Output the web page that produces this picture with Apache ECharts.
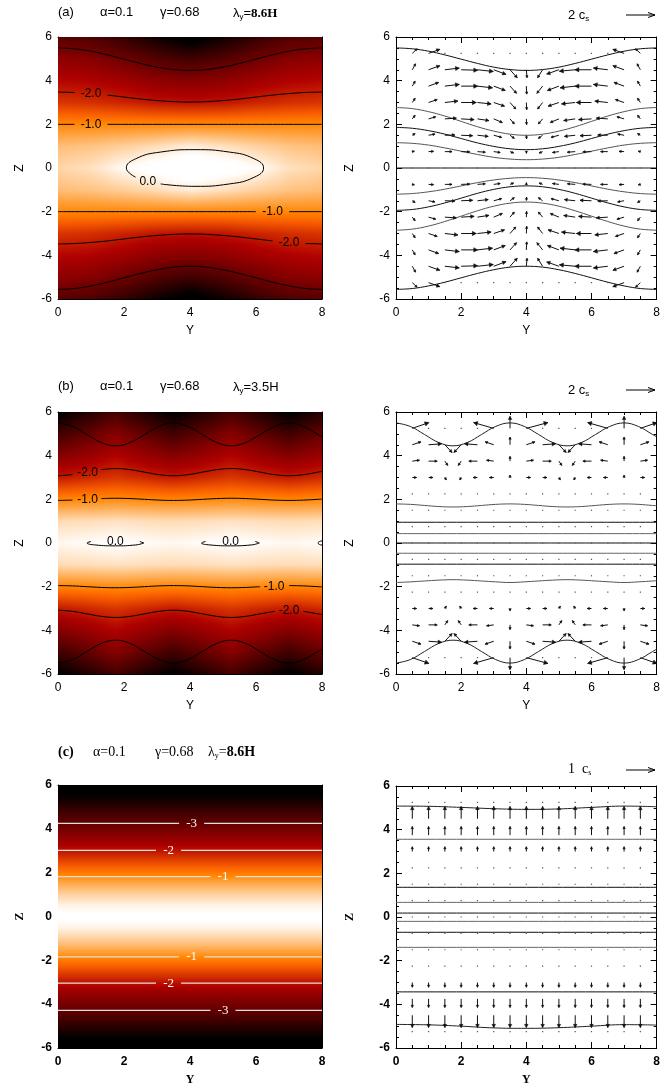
<!DOCTYPE html>
<html><head><meta charset="utf-8">
<script src="https://cdn.jsdelivr.net/npm/echarts@6.0.0/dist/echarts.min.js"></script>
<style>html,body{margin:0;padding:0;background:#fff}#c{width:663px;height:1091px}</style>
</head><body><div id="c"></div>
<script>
// ---------------- DATA ----------------
// log-density (heat maps), rows from z=6 down to z=-6
const aRhoY = [0,1,2,3,4,5,6,7,8];
const aRhoZ = [6,5,4,3,2,1,0,-1,-2,-3,-4,-5,-6];
const aRho = [
 [-3.1,-3.2,-3.5,-3.9,-4.3,-3.9,-3.5,-3.2,-3.1],
 [-2.5,-2.6,-2.85,-3.15,-3.35,-3.15,-2.85,-2.6,-2.5],
 [-2.1,-2.15,-2.3,-2.5,-2.6,-2.5,-2.3,-2.15,-2.1],
 [-1.7,-1.75,-1.85,-1.97,-2.0,-1.97,-1.85,-1.75,-1.7],
 [-1,-1,-1,-1,-1,-1,-1,-1,-1],
 [-0.55,-0.5,-0.4,-0.28,-0.15,-0.25,-0.38,-0.5,-0.55],
 [-0.35,-0.25,-0.03,0.12,0.2,0.14,0.0,-0.25,-0.35],
 [-0.55,-0.5,-0.4,-0.28,-0.15,-0.25,-0.38,-0.5,-0.55],
 [-1,-1,-1,-1,-1,-1,-1,-1,-1],
 [-1.7,-1.75,-1.85,-1.97,-2.0,-1.97,-1.85,-1.75,-1.7],
 [-2.1,-2.15,-2.3,-2.5,-2.6,-2.5,-2.3,-2.15,-2.1],
 [-2.5,-2.6,-2.85,-3.15,-3.35,-3.15,-2.85,-2.6,-2.5],
 [-3.1,-3.2,-3.5,-3.9,-4.3,-3.9,-3.5,-3.2,-3.1]
];
const bRhoY = [0,0.875,1.75,2.625,3.5,4.375,5.25,6.125,7.0,7.875,8.0];
const bRhoZ = [6,5,4,3,2,1,0,-1,-2,-3,-4,-5,-6];
const bRho = [
 [-4.1,-3.7,-3.3,-3.7,-4.1,-3.7,-3.3,-3.7,-4.1,-3.7,-3.65],
 [-3.35,-3.0,-2.6,-3.0,-3.35,-3.0,-2.6,-3.0,-3.35,-3.0,-2.95],
 [-2.6,-2.38,-2.15,-2.38,-2.6,-2.38,-2.15,-2.38,-2.6,-2.38,-2.36],
 [-1.93,-1.82,-1.7,-1.82,-1.93,-1.82,-1.7,-1.82,-1.93,-1.82,-1.8],
 [-1.03,-1.0,-0.97,-1.0,-1.03,-1.0,-0.97,-1.0,-1.03,-1.0,-1.0],
 [-0.3,-0.28,-0.25,-0.28,-0.3,-0.28,-0.25,-0.28,-0.3,-0.28,-0.28],
 [-0.06,-0.02,0.03,-0.02,-0.06,-0.02,0.03,-0.02,-0.06,-0.02,-0.01],
 [-0.3,-0.28,-0.25,-0.28,-0.3,-0.28,-0.25,-0.28,-0.3,-0.28,-0.28],
 [-1.03,-1.0,-0.97,-1.0,-1.03,-1.0,-0.97,-1.0,-1.03,-1.0,-1.0],
 [-1.93,-1.82,-1.7,-1.82,-1.93,-1.82,-1.7,-1.82,-1.93,-1.82,-1.8],
 [-2.6,-2.38,-2.15,-2.38,-2.6,-2.38,-2.15,-2.38,-2.6,-2.38,-2.36],
 [-3.35,-3.0,-2.6,-3.0,-3.35,-3.0,-2.6,-3.0,-3.35,-3.0,-2.95],
 [-4.1,-3.7,-3.3,-3.7,-4.1,-3.7,-3.3,-3.7,-4.1,-3.7,-3.65]
];
const cRhoZ = [6,5.5,5,4.5,4,3.5,3,2.5,2,1.5,1,0.5,0,-0.5,-1,-1.5,-2,-2.5,-3,-3.5,-4,-4.5,-5,-5.5,-6];
const cRho = [-4.5,-4.0,-3.55,-3.15,-2.78,-2.4,-1.98,-1.55,-1.12,-0.72,-0.38,-0.1,0.05,-0.1,-0.38,-0.72,-1.12,-1.55,-1.98,-2.4,-2.78,-3.15,-3.55,-4.0,-4.5];

// contour / field-line samples
const aY = [0,0.5,1,1.5,2,2.5,3,3.5,4,4.5,5,5.5,6,6.5,7,7.5,8];
const aField1 = [5.5,5.46,5.35,5.18,4.985,4.79,4.62,4.51,4.47,4.51,4.62,4.79,4.985,5.18,5.35,5.46,5.5];
const aField1b = [-5.56,-5.52,-5.4,-5.23,-5.03,-4.83,-4.66,-4.54,-4.5,-4.54,-4.66,-4.83,-5.03,-5.23,-5.4,-5.52,-5.56];
const aCm2Top = [3.48,3.46,3.41,3.34,3.25,3.16,3.09,3.04,3.02,3.04,3.09,3.16,3.25,3.34,3.41,3.46,3.48];
const aCm2Bot = [-3.48,-3.46,-3.41,-3.34,-3.25,-3.16,-3.09,-3.04,-3.02,-3.04,-3.09,-3.16,-3.25,-3.34,-3.41,-3.46,-3.48];
const aCm1Top = [2,2,2,2,2,2,2,2,2,2,2,2,2,2,2,2,2];
const aCm1Bot = [-2,-2,-2,-2,-2,-2,-2,-2,-2,-2,-2,-2,-2,-2,-2,-2,-2];
const aC0 = [[3.11,-0.73],[4.15,-0.84],[5.19,-0.73],[5.95,-0.42],[6.23,0],[5.95,0.42],[5.19,0.73],[4.15,0.84],[3.11,0.73],[2.35,0.42],[2.07,0],[2.35,-0.42]];
const aC01 = [[2.43,0],[2.65,0.26],[3.26,0.45],[4.1,0.52],[4.94,0.45],[5.55,0.26],[5.77,0],[5.55,-0.26],[4.94,-0.45],[4.1,-0.52],[3.6,-0.5]];
const aField2 = [2.77,2.72,2.58,2.38,2.135,1.89,1.69,1.55,1.5,1.55,1.69,1.89,2.135,2.38,2.58,2.72,2.77];
const aField3 = [1.86,1.82,1.71,1.55,1.35,1.15,0.99,0.88,0.84,0.88,0.99,1.15,1.35,1.55,1.71,1.82,1.86];
const aField4 = [1.16,1.13,1.05,0.92,0.77,0.62,0.49,0.41,0.38,0.41,0.49,0.62,0.77,0.92,1.05,1.13,1.16];
const aField0 = [0,0,0,0,0,0,0,0,0,0,0,0,0,0,0,0,0];
const aField4b = [-1.2,-1.17,-1.09,-0.97,-0.82,-0.67,-0.55,-0.47,-0.44,-0.47,-0.55,-0.67,-0.82,-0.97,-1.09,-1.17,-1.2];
const aField3b = [-1.94,-1.9,-1.78,-1.6,-1.38,-1.16,-0.98,-0.86,-0.82,-0.86,-0.98,-1.16,-1.38,-1.6,-1.78,-1.9,-1.94];
const aField2b = [-2.85,-2.8,-2.66,-2.45,-2.205,-1.96,-1.75,-1.61,-1.56,-1.61,-1.75,-1.96,-2.205,-2.45,-2.66,-2.8,-2.85];

const bY = [0,0.4375,0.875,1.3125,1.75,2.1875,2.625,3.0625,3.5,3.9375,4.375,4.8125,5.25,5.6875,6.125,6.5625,7.0,7.4375,7.875,8.0];
const bFieldTop = [5.5,5.34,4.97,4.6,4.45,4.6,4.97,5.34,5.5,5.34,4.97,4.6,4.45,4.6,4.97,5.34,5.5,5.34,4.97,4.86];
const bFieldBot = [-5.5,-5.34,-4.97,-4.6,-4.45,-4.6,-4.97,-5.34,-5.5,-5.34,-4.97,-4.6,-4.45,-4.6,-4.97,-5.34,-5.5,-5.34,-4.97,-4.86];
const bCm2Top = [3.08,3.13,3.245,3.36,3.41,3.36,3.245,3.13,3.08,3.13,3.245,3.36,3.41,3.36,3.245,3.13,3.08,3.13,3.245,3.28];
const bCm2Bot = [-3.08,-3.13,-3.245,-3.36,-3.41,-3.36,-3.245,-3.13,-3.08,-3.13,-3.245,-3.36,-3.41,-3.36,-3.245,-3.13,-3.08,-3.13,-3.245,-3.28];
const bCm1Top = [1.95,1.965,2.0,2.035,2.05,2.035,2.0,1.965,1.95,1.965,2.0,2.035,2.05,2.035,2.0,1.965,1.95,1.965,2.0,2.01];
const bCm1Bot = [-1.95,-1.965,-2.0,-2.035,-2.05,-2.035,-2.0,-1.965,-1.95,-1.965,-2.0,-2.035,-2.05,-2.035,-2.0,-1.965,-1.95,-1.965,-2.0,-2.01];
const bC0a = [[2.6,0],[2.35,-0.09],[1.74,-0.13],[1.13,-0.09],[0.88,0],[1.0,0.07]];
const bC0a2 = [[2.48,0.07],[2.6,0]];
const bC0b = [[6.1,0],[5.85,-0.09],[5.23,-0.13],[4.61,-0.09],[4.35,0],[4.47,0.07]];
const bC0b2 = [[5.98,0.07],[6.1,0]];
const bC0c = [[8.1,0.12],[7.95,0.08],[7.88,0],[7.95,-0.08],[8.1,-0.12]];
const bField18 = [1.79,1.77,1.72,1.67,1.65,1.67,1.72,1.77,1.79,1.77,1.72,1.67,1.65,1.67,1.72,1.77,1.79,1.77,1.72,1.71];
const bField18b = [-1.81,-1.78,-1.74,-1.7,-1.68,-1.7,-1.74,-1.78,-1.81,-1.78,-1.74,-1.7,-1.68,-1.7,-1.74,-1.78,-1.81,-1.78,-1.74,-1.73];
const bFlat = [0.95,0.43,0,-0.47,-0.97];

const cY = [0,1,2,3,4,5,6,7,8];
const cFieldTop = [5.08,5.07,5.02,4.96,4.93,4.95,5.02,5.08,5.05];
const cFieldBot = [-4.92,-4.94,-5.0,-5.08,-5.1,-5.07,-5.0,-4.93,-4.95];
const cFlat = [3.56,1.36,0.67,0.18,-0.2,-0.7,-1.39,-3.43];
const cContour = [4.25,3.02,1.82,-1.84,-3.04,-4.28];

// vector grid
const vecY = [0.5,1,1.5,2,2.5,3,3.5,4,4.5,5,5.5,6,6.5,7,7.5];
const vecZ = [5.25,4.5,3.75,3,2.25,1.5,0.75,0,-0.75,-1.5,-2.25,-3,-3.75,-4.5,-5.25];
const aVy = [
 [0.34,0.78,0,0,0,0,0,0,0,0,0,0,0,-0.78,-0.34],
 [0.23,0.78,1.0,1.15,1.1,0.85,0.5,0.05,-0.35,-0.85,-1.1,-1.15,-1.0,-0.78,-0.23],
 [0.2,0.7,1.0,1.15,1.05,0.8,0.45,0.03,-0.4,-0.8,-1.05,-1.15,-1.0,-0.7,-0.2],
 [0.2,0.6,0.9,1.05,0.95,0.75,0.4,0.03,-0.35,-0.75,-0.95,-1.05,-0.9,-0.6,-0.2],
 [0.2,0.5,0.8,0.9,0.8,0.6,0.3,0.02,-0.3,-0.6,-0.8,-0.9,-0.8,-0.5,-0.2],
 [0.2,0.45,0.7,0.8,0.75,0.55,0.3,0.02,-0.3,-0.55,-0.75,-0.8,-0.7,-0.45,-0.2],
 [0.15,0.35,0.5,0.6,0.55,0.45,0.25,0.01,-0.25,-0.45,-0.55,-0.6,-0.5,-0.35,-0.15],
 [0,0,0,0,0,0,0,0,0,0,0,0,0,0,0],
 [0.15,0.35,0.5,0.6,0.55,0.45,0.25,0.01,-0.25,-0.45,-0.55,-0.6,-0.5,-0.35,-0.15],
 [0.2,0.45,0.7,0.8,0.75,0.55,0.3,0.02,-0.3,-0.55,-0.75,-0.8,-0.7,-0.45,-0.2],
 [0.2,0.5,0.8,0.9,0.8,0.6,0.3,0.02,-0.3,-0.6,-0.8,-0.9,-0.8,-0.5,-0.2],
 [0.2,0.6,0.9,1.05,0.95,0.75,0.4,0.03,-0.35,-0.75,-0.95,-1.05,-0.9,-0.6,-0.2],
 [0.2,0.7,1.0,1.15,1.05,0.8,0.45,0.03,-0.4,-0.8,-1.05,-1.15,-1.0,-0.7,-0.2],
 [0.23,0.78,1.0,1.15,1.1,0.85,0.5,0.05,-0.35,-0.85,-1.1,-1.15,-1.0,-0.78,-0.23],
 [0.34,0.78,0,0,0,0,0,0,0,0,0,0,0,-0.78,-0.34]
];
const aVz = [
 [0.48,0.42,0,0,0,0,0,0,0,0,0,0,0,0.42,0.48],
 [0.62,0.42,0.17,-0.05,-0.18,-0.48,-0.83,-0.83,-0.83,-0.45,-0.15,0,0.18,0.42,0.62],
 [0.52,0.38,0.18,0,-0.18,-0.45,-0.75,-0.83,-0.75,-0.45,-0.18,0,0.18,0.38,0.52],
 [0.45,0.3,0.15,0,-0.15,-0.38,-0.68,-0.75,-0.68,-0.38,-0.15,0,0.15,0.3,0.45],
 [0.38,0.22,0.08,-0.08,-0.18,-0.38,-0.53,-0.6,-0.53,-0.38,-0.18,-0.08,0.08,0.22,0.38],
 [0.18,0.12,0.03,-0.05,-0.12,-0.22,-0.33,-0.38,-0.33,-0.22,-0.12,-0.05,0.03,0.12,0.18],
 [0.05,0.03,0,-0.03,-0.06,-0.09,-0.15,-0.18,-0.15,-0.09,-0.06,-0.03,0,0.03,0.05],
 [0,0,0,0,0,0,0,0,0,0,0,0,0,0,0],
 [-0.05,-0.03,0,0.03,0.06,0.09,0.15,0.18,0.15,0.09,0.06,0.03,0,-0.03,-0.05],
 [-0.18,-0.12,-0.03,0.05,0.12,0.22,0.33,0.38,0.33,0.22,0.12,0.05,-0.03,-0.12,-0.18],
 [-0.38,-0.22,-0.08,0.08,0.18,0.38,0.53,0.6,0.53,0.38,0.18,0.08,-0.08,-0.22,-0.38],
 [-0.45,-0.3,-0.15,0,0.15,0.38,0.68,0.75,0.68,0.38,0.15,0,-0.15,-0.3,-0.45],
 [-0.52,-0.38,-0.18,0,0.18,0.45,0.75,0.83,0.75,0.45,0.18,0,-0.18,-0.38,-0.52],
 [-0.62,-0.42,-0.17,0.05,0.18,0.48,0.83,0.83,0.83,0.45,0.15,0,-0.18,-0.42,-0.62],
 [-0.48,-0.42,0,0,0,0,0,0,0,0,0,0,0,-0.42,-0.48]
];
const bVy = [
 [1.15,0,0,0,0,-1.4,0,1.5,0,0,0,0,-1.4,0,1.15],
 [0.6,0.9,0.5,-0.5,-0.9,-0.6,0,0.6,0.9,0.5,-0.5,-0.9,-0.6,0,0.6],
 [0.5,0.6,0.2,-0.2,-0.6,-0.5,0,0.5,0.6,0.2,-0.2,-0.6,-0.5,0,0.5],
 [0.3,0.3,0.1,-0.1,-0.3,-0.3,0,0.3,0.3,0.1,-0.1,-0.3,-0.3,0,0.3],
 [0.1,0.1,0,0,-0.1,-0.1,0,0.1,0.1,0,0,-0.1,-0.1,0,0.1],
 [0,0,0,0,0,0,0,0,0,0,0,0,0,0,0],
 [0,0,0,0,0,0,0,0,0,0,0,0,0,0,0],
 [0,0,0,0,0,0,0,0,0,0,0,0,0,0,0],
 [0,0,0,0,0,0,0,0,0,0,0,0,0,0,0],
 [0,0,0,0,0,0,0,0,0,0,0,0,0,0,0],
 [0.1,0.1,0,0,-0.1,-0.1,0,0.1,0.1,0,0,-0.1,-0.1,0,0.1],
 [0.3,0.3,0.1,-0.1,-0.3,-0.3,0,0.3,0.3,0.1,-0.1,-0.3,-0.3,0,0.3],
 [0.5,0.6,0.2,-0.2,-0.6,-0.5,0,0.5,0.6,0.2,-0.2,-0.6,-0.5,0,0.5],
 [0.6,0.9,0.5,-0.5,-0.9,-0.6,0,0.6,0.9,0.5,-0.5,-0.9,-0.6,0,0.6],
 [1.15,0,0,0,0,-1.4,0,1.5,0,0,0,0,-1.4,0,1.15]
];
const bVz = [
 [0.6,0,0,0,0,0.6,1.25,0.6,0,0,0,0,0.6,1.25,0.6],
 [0.3,0.1,-0.8,-0.8,0.1,0.3,0.8,0.3,0.1,-0.8,-0.8,0.1,0.3,0.8,0.3],
 [0.1,0,-0.45,-0.45,0,0.1,0.5,0.1,0,-0.45,-0.45,0,0.1,0.5,0.1],
 [0,0,-0.25,-0.25,0,0,0.25,0,0,-0.25,-0.25,0,0,0.25,0],
 [0,0,0,0,0,0,0,0,0,0,0,0,0,0,0],
 [0,0,0,0,0,0,0,0,0,0,0,0,0,0,0],
 [0,0,0,0,0,0,0,0,0,0,0,0,0,0,0],
 [0,0,0,0,0,0,0,0,0,0,0,0,0,0,0],
 [0,0,0,0,0,0,0,0,0,0,0,0,0,0,0],
 [0,0,0,0,0,0,0,0,0,0,0,0,0,0,0],
 [0,0,0,0,0,0,0,0,0,0,0,0,0,0,0],
 [0,0,0.25,0.25,0,0,-0.25,0,0,0.25,0.25,0,0,-0.25,0],
 [-0.1,0,0.45,0.45,0,-0.1,-0.5,-0.1,0,0.45,0.45,0,-0.1,-0.5,-0.1],
 [-0.3,-0.1,0.8,0.8,-0.1,-0.3,-0.8,-0.3,-0.1,0.8,0.8,-0.1,-0.3,-0.8,-0.3],
 [-0.6,0,0,0,0,-0.6,-1.25,-0.6,0,0,0,0,-0.6,-1.25,-0.6]
];
const cVz = [0.02,0.64,0.45,0.25,0.05,0.03,0.02,0,-0.02,-0.03,-0.05,-0.25,-0.45,-0.64,-0.02];

// ---------------- RENDERING ----------------
const FONT = '"Liberation Sans", Arial, sans-serif';
const SERIF = '"Liberation Serif", "Times New Roman", serif';

function cmap(v){
  let i = 255 + 63*v; i = Math.max(0, Math.min(255, i));
  const r = Math.min(255, i*1.46), g = Math.max(0, Math.min(255,(i-120)*1.89)), b = Math.max(0, Math.min(255,(i-190)*3.92));
  return 'rgb('+Math.round(r)+','+Math.round(g)+','+Math.round(b)+')';
}

const grids = [
 {left:58, top:37, width:264, height:262},
 {left:396, top:37, width:262, height:262},
 {left:58, top:412, width:264, height:262},
 {left:396, top:412, width:262, height:262},
 {left:58, top:785, width:264, height:263},
 {left:396, top:786, width:262, height:262}
];

const xAxes = [], yAxes = [];
function addAxes(gi, bold){
  const lab = {color:'#000', fontSize:12, fontFamily: FONT, fontWeight: bold ? 'bold':'normal'};
  const nameStyle = {color:'#000', fontSize:12, fontFamily: bold ? SERIF : FONT, fontWeight: bold ? 'bold':'normal'};
  const base = {type:'value', gridIndex:gi,
    axisLine:{show:true,onZero:false,lineStyle:{color:'#000',width:1}},
    axisTick:{show:true,inside:true,length:6,lineStyle:{color:'#000',width:1}},
    minorTick:{show:true,splitNumber:4,length:3,lineStyle:{color:'#000',width:1}},
    splitLine:{show:false}, minorSplitLine:{show:false}};
  const right = gi % 2 === 1;
  xAxes.push(Object.assign({}, base, {min:0,max:8,interval:2,position:'bottom',
    axisLabel:Object.assign({margin:8}, lab), name:'Y', nameLocation:'middle', nameGap:26, nameTextStyle:nameStyle}));
  xAxes.push(Object.assign({}, base, {min:0,max:8,interval:2,position:'top', axisLabel:{show:false}}));
  yAxes.push(Object.assign({}, base, {min:-6,max:6,interval:2,position:'left',
    axisLabel:Object.assign({margin:6}, lab), name:'Z', nameLocation:'middle', nameRotate:90,
    nameGap: right ? 40 : 32, nameTextStyle:nameStyle}));
  yAxes.push(Object.assign({}, base, {min:-6,max:6,interval:2,position:'right', axisLabel:{show:false}}));
}
for (let g=0; g<6; g++) addAxes(g, g>=4);

const series = [];

function heat(gi, ys, zs, rows){
  const multi = ys.length > 1;
  const items = multi ? ys.slice(0,-1).map((y,k)=>[y, k]) : [[0,0]];
  const zTop = zs[0], zBot = zs[zs.length-1];
  series.push({type:'custom', xAxisIndex:2*gi, yAxisIndex:2*gi, clip:true, silent:true, z:1,
    data: items,
    renderItem(params, api){
      const k = api.value(1);
      const y0 = multi ? ys[k] : 0, y1 = multi ? ys[k+1] : 8;
      const pA = api.coord([y0, zTop]), pB = api.coord([y1, zBot]);
      const NS = multi ? Math.max(1, Math.round((pB[0]-pA[0])/3)) : 1;
      const yT = Math.floor(pA[1]), yB = Math.ceil(pB[1]);
      const children = [];
      for (let s=0; s<NS; s++){
        const f = (s+0.5)/NS;
        const col = rows.map(r => multi ? r[k]*(1-f) + r[k+1]*f : (Array.isArray(r) ? r[0] : r));
        const stops = [];
        for (let j=0; j<zs.length-1; j++){
          for (let t=0; t<4; t++){
            const v = col[j] + (col[j+1]-col[j])*t/4;
            const z = zs[j] + (zs[j+1]-zs[j])*t/4;
            stops.push({offset:(zTop - z)/(zTop - zBot), color:cmap(v)});
          }
        }
        stops.push({offset:1, color:cmap(col[col.length-1])});
        const xL = Math.round(pA[0] + (pB[0]-pA[0])*s/NS), xR = Math.round(pA[0] + (pB[0]-pA[0])*(s+1)/NS);
        children.push({type:'rect', shape:{x:xL, y:yT, width:xR-xL+1, height:yB-yT},
          style:{fill:{type:'linear', x:0, y:0, x2:0, y2:1, colorStops:stops}}});
      }
      return {type:'group', children};
    }});
}

function segs(ys, zs, gaps){
  gaps = gaps || [];
  const out = []; let cur = [];
  for (let i=0; i<ys.length; i++){
    const y = ys[i];
    if (gaps.some(g => y > g[0] && y < g[1])) continue;
    if (cur.length && gaps.some(g => cur[cur.length-1][0] <= g[0] && y >= g[1])) { out.push(cur); cur = []; }
    cur.push([y, zs[i]]);
  }
  if (cur.length) out.push(cur);
  return out;
}
function line(gi, pts, color, width, smooth){
  series.push({type:'line', xAxisIndex:2*gi, yAxisIndex:2*gi, data:pts, symbol:'none', showSymbol:false,
    smooth: smooth === undefined ? 0.4 : smooth, clip:true, silent:true, z:3,
    lineStyle:{color:color, width:width || 1}});
}
function lines(gi, ys, zs, color, gaps, width){
  segs(ys, zs, gaps).forEach(p => line(gi, p, color, width));
}
function labels(gi, labs, color, font){
  series.push({type:'custom', xAxisIndex:2*gi, yAxisIndex:2*gi, z:5, silent:true, clip:false,
    data: labs.map(l => [l[0], l[1]]),
    renderItem(p, api){
      const c = api.coord([api.value(0), api.value(1)]);
      return {type:'text', x:c[0], y:c[1], style:{text:labs[p.dataIndex][2], fill:color, font:font, align:'center', verticalAlign:'middle'}};
    }});
}
function vectors(gi, vy, vz, S){
  const data = [];
  vecZ.forEach((z, r) => vecY.forEach((y, c) => {
    data.push([y, z, Array.isArray(vy[r]) ? vy[r][c] : 0, Array.isArray(vz[r]) ? vz[r][c] : vz[r]]);
  }));
  series.push({type:'custom', xAxisIndex:2*gi, yAxisIndex:2*gi, z:4, silent:true, clip:true, data,
    renderItem(p, api){
      const y = api.value(0), z = api.value(1), u = api.value(2), w = api.value(3);
      const p0 = api.coord([y, z]), p1 = api.coord([y + u*S, z + w*S]);
      const dx = p1[0]-p0[0], dy = p1[1]-p0[1], L = Math.hypot(dx, dy);
      if (L < 1.5) return {type:'rect', shape:{x:p0[0]-0.6, y:p0[1]-0.6, width:1.2, height:1.2}, style:{fill:'#555'}};
      const h = Math.min(4.5, Math.max(2.5, L*0.3)), ang = Math.atan2(dy, dx), a = 0.5;
      const l = [p1[0]-h*Math.cos(ang-a), p1[1]-h*Math.sin(ang-a)], rr = [p1[0]-h*Math.cos(ang+a), p1[1]-h*Math.sin(ang+a)];
      return {type:'group', children:[
        {type:'line', shape:{x1:p0[0], y1:p0[1], x2:p1[0], y2:p1[1]}, style:{stroke:'#111', lineWidth:1}},
        {type:'polygon', shape:{points:[p1, l, rr]}, style:{fill:'#111', stroke:'#111', lineWidth:0.5}}
      ]};
    }});
}

// ---- panel (a) left
heat(0, aRhoY, aRhoZ, aRho);
line(0, aY.map((y,i)=>[y, aField1[i]]), '#000');
line(0, aY.map((y,i)=>[y, aField1b[i]]), '#000');
lines(0, aY, aCm2Top, '#000', [[0.5,1.5]]);
lines(0, aY, aCm1Top, '#000', [[0.5,1.5]]);
lines(0, aY, aCm1Bot, '#000', [[6,7]]);
lines(0, aY, aCm2Bot, '#000', [[6.5,7.5]]);
line(0, aC0, '#000', 1, 0.5);
line(0, aC01, '#fff', 1, 0.5);
labels(0, [[1.0,3.42,'-2.0'],[1.0,2.0,'-1.0'],[6.5,-2.0,'-1.0'],[7.0,-3.42,'-2.0'],[2.72,-0.62,'0.0']], '#000', '12px '+FONT);
labels(0, [[3.4,-0.6,'0.1']], '#fff', '11px '+FONT);
// ---- panel (a) right
[aField1, aField2, aField3, aField4, aField0, aField4b, aField3b, aField2b, aField1b].forEach((f, i) =>
  line(1, aY.map((y,k)=>[y, f[k]]), i % 2 ? '#555' : '#111'));
vectors(1, aVy, aVz, 0.442);

// ---- panel (b) left
heat(2, bRhoY, bRhoZ, bRho);
line(2, bY.map((y,i)=>[y, bFieldTop[i]]), '#000');
line(2, bY.map((y,i)=>[y, bFieldBot[i]]), '#000');
lines(2, bY, bCm2Top, '#000', [[0.4375,1.3125]]);
lines(2, bY, bCm1Top, '#000', [[0.4375,1.3125]]);
lines(2, bY, bCm1Bot, '#000', [[6.125,7.0]]);
lines(2, bY, bCm2Bot, '#000', [[6.5625,7.4375]]);
[bC0a, bC0a2, bC0b, bC0b2, bC0c].forEach(p => line(2, p, '#000', 1, 0.5));
labels(2, [[0.9,3.2,'-2.0'],[0.9,1.97,'-1.0'],[6.55,-2.0,'-1.0'],[7.0,-3.1,'-2.0'],[1.74,0.06,'0.0'],[5.23,0.06,'0.0']], '#000', '12px '+FONT);
// ---- panel (b) right
line(3, bY.map((y,i)=>[y, bFieldTop[i]]), '#222');
line(3, bY.map((y,i)=>[y, bFieldBot[i]]), '#222');
line(3, bY.map((y,i)=>[y, bField18[i]]), '#555');
line(3, bY.map((y,i)=>[y, bField18b[i]]), '#555');
bFlat.forEach((z,i) => line(3, [[0,z],[8,z]], i % 2 ? '#666' : '#111'));
vectors(3, bVy, bVz, 0.442);

// ---- panel (c) left
heat(4, [0], cRhoZ, cRho);
const cLabY = [4.05, 3.35, 5.0, 4.05, 3.35, 5.0];
const cLabT = ['-3','-2','-1','-1','-2','-3'];
cContour.forEach((z,i) => {
  line(4, [[0,z],[cLabY[i]-0.38,z]], '#e0e0e0', 1.2, false);
  line(4, [[cLabY[i]+0.38,z],[8,z]], '#e0e0e0', 1.2, false);
});
labels(4, cContour.map((z,i)=>[cLabY[i], z, cLabT[i]]), '#fff', '13px '+SERIF);
// ---- panel (c) right
line(5, cY.map((y,i)=>[y, cFieldTop[i]]), '#222');
line(5, cY.map((y,i)=>[y, cFieldBot[i]]), '#222');
cFlat.forEach((z,i) => line(5, [[0,z],[8,z]], i % 2 ? '#111' : '#666'));
vectors(5, [], cVz, 0.884);

// ---- titles & scale arrows
const tStyle = {fontSize:13, fontWeight:'normal', fontFamily:FONT, color:'#000'};
const rich = {s:{fontSize:8, fontFamily:FONT, padding:[7,0,0,0]}, b:{fontSize:13, fontWeight:'bold', fontFamily:SERIF}, n:{fontSize:13, fontFamily:FONT}};
const richC = {s:{fontSize:8, fontFamily:SERIF, padding:[7,0,0,0]}, b:{fontSize:14, fontWeight:'bold', fontFamily:SERIF}, n:{fontSize:14, fontFamily:SERIF}};
function ttl(text, left, top, st, rc){ return {text, left, top, padding:0, itemGap:0, textStyle:Object.assign({}, st, {rich: rc || rich})}; }
const serifT = Object.assign({}, tStyle, {fontFamily:SERIF, fontSize:14});
const title = [
  ttl('(a)', 58, 6, tStyle), ttl('α=0.1', 100, 6, tStyle), ttl('γ=0.68', 160, 6, tStyle), ttl('{n|λ}{s|y}{n|=}{b|8.6H}', 233, 6, tStyle),
  ttl('(b)', 58, 380, tStyle), ttl('α=0.1', 100, 380, tStyle), ttl('γ=0.68', 160, 380, tStyle), ttl('{n|λ}{s|y}{n|=3.5H}', 233, 380, tStyle),
  ttl('{b|(c)}', 58, 745, serifT, richC), ttl('α=0.1', 93, 745, serifT), ttl('γ=0.68', 155, 745, serifT), ttl('{n|λ}{s|y}{n|=}{b|8.6H}', 208, 745, serifT, richC),
  ttl('{n|2 c}{s|s}', 568, 8, tStyle), ttl('{n|2 c}{s|s}', 568, 383, tStyle), ttl('{n|1  c}{s|s}', 568, 762, serifT, richC)
];
function arrowG(y){
  return [
    {type:'line', shape:{x1:626, y1:y, x2:655, y2:y}, style:{stroke:'#000', lineWidth:1}, silent:true},
    {type:'polyline', shape:{points:[[648,y-2.5],[655,y],[648,y+2.5]]}, style:{stroke:'#000', fill:null, lineWidth:1}, silent:true}
  ];
}
const graphic = [].concat(arrowG(15), arrowG(390), arrowG(770));

const chart = echarts.init(document.getElementById('c'), null, {renderer:'canvas'});
chart.setOption({animation:false, backgroundColor:'#fff', title, grid:grids, xAxis:xAxes, yAxis:yAxes, series, graphic});
</script></body></html>
